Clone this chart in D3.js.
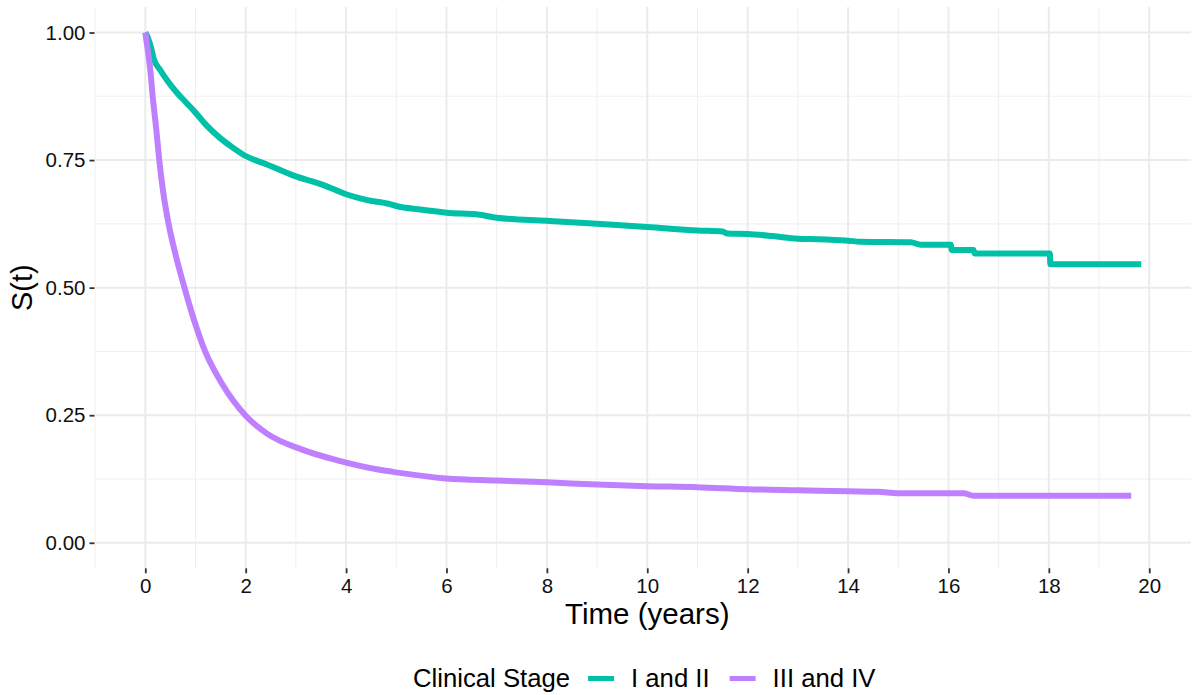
<!DOCTYPE html>
<html>
<head>
<meta charset="utf-8">
<script src="https://cdn.jsdelivr.net/npm/d3@7"></script>
<style>
  html, body { margin: 0; padding: 0; background: #fff; }
  svg { display: block; font-family: "Liberation Sans", Arial, Helvetica, sans-serif; }
</style>
</head>
<body>
<svg id="chart" width="1198" height="695"></svg>
<script>
// Kaplan–Meier survival estimates by clinical stage (time in years, survival probability)
const stageLabels = ["I and II", "III and IV"];
const stageColors = ["#00C1A7", "#BF80FF"];

const timeEarly = [0, 0.05, 0.11, 0.17, 0.30, 0.43, 0.63, 0.83, 1.0, 1.22, 1.48, 1.75, 2.0, 2.41, 3.0, 3.55, 4.0, 4.4, 4.86, 5.0, 5.48, 6.0, 6.66, 7.0, 8.0, 9.0, 10.0, 11.0, 11.5, 11.6, 12.0, 12.5, 13.0, 13.4, 14.0, 14.25, 15.25, 15.45, 16.05, 16.06, 16.5, 16.52, 18.02, 18.03, 19.84];
const survEarly = [1.0, 0.99, 0.972, 0.948, 0.926, 0.907, 0.882, 0.861, 0.843, 0.818, 0.794, 0.774, 0.758, 0.742, 0.718, 0.701, 0.683, 0.672, 0.664, 0.660, 0.653, 0.647, 0.643, 0.637, 0.631, 0.625, 0.619, 0.612, 0.610, 0.606, 0.605, 0.601, 0.596, 0.595, 0.592, 0.590, 0.589, 0.584, 0.584, 0.574, 0.574, 0.567, 0.567, 0.546, 0.546];

const timeLate = [0, 0.05, 0.10, 0.15, 0.22, 0.28, 0.36, 0.46, 0.60, 0.78, 0.95, 1.18, 1.52, 2.0, 2.41, 3.14, 3.81, 4.67, 5.0, 6.0, 7.0, 8.0, 9.0, 10.0, 11.0, 12.0, 13.0, 14.0, 14.6, 15.0, 16.3, 16.5, 19.64];
const survLate = [1.0, 0.965, 0.926, 0.872, 0.809, 0.748, 0.685, 0.627, 0.566, 0.500, 0.443, 0.378, 0.313, 0.249, 0.215, 0.182, 0.162, 0.143, 0.138, 0.126, 0.122, 0.1185, 0.114, 0.111, 0.109, 0.105, 0.103, 0.101, 0.100, 0.097, 0.097, 0.092, 0.092];

const xTicks = [0, 2, 4, 6, 8, 10, 12, 14, 16, 18, 20];
const yTicks = [0, 0.25, 0.5, 0.75, 1.0];
const xMinor = [-1, 1, 3, 5, 7, 9, 11, 13, 15, 17, 19];
const yMinor = [0.125, 0.375, 0.625, 0.875];

const xTitle = "Time (years)";
const yTitle = "S(t)";
const legendTitle = "Clinical Stage";

const series = [
  { label: stageLabels[0], color: stageColors[0], points: timeEarly.map((t, i) => [t, survEarly[i]]) },
  { label: stageLabels[1], color: stageColors[1], points: timeLate.map((t, i) => [t, survLate[i]]) }
];

const svg = d3.select("#chart");
const panel = { left: 95.5, right: 1191, top: 7, bottom: 568.3 };

// ggplot-style 5% expansion around the data / limits
const tMax = d3.max(series, s => d3.max(s.points, p => p[0]));
const xPad = tMax * 0.05;
const x = d3.scaleLinear().domain([-xPad, tMax + xPad]).range([panel.left, panel.right]);
const y = d3.scaleLinear().domain([-0.05, 1.05]).range([panel.bottom, panel.top]);

// grid
const grid = svg.append("g");
grid.selectAll(".xminor").data(xMinor.filter(v => x(v) >= panel.left - 1 && x(v) <= panel.right))
  .join("line").attr("x1", d => x(d)).attr("x2", d => x(d))
  .attr("y1", panel.top).attr("y2", panel.bottom)
  .attr("stroke", "#F0F0F0").attr("stroke-width", 1.1);
grid.selectAll(".yminor").data(yMinor)
  .join("line").attr("y1", d => y(d)).attr("y2", d => y(d))
  .attr("x1", panel.left).attr("x2", panel.right)
  .attr("stroke", "#F0F0F0").attr("stroke-width", 1.1);
grid.selectAll(".xmajor").data(xTicks)
  .join("line").attr("x1", d => x(d)).attr("x2", d => x(d))
  .attr("y1", panel.top).attr("y2", panel.bottom)
  .attr("stroke", "#EBEBEB").attr("stroke-width", 2);
grid.selectAll(".ymajor").data(yTicks)
  .join("line").attr("y1", d => y(d)).attr("y2", d => y(d))
  .attr("x1", panel.left).attr("x2", panel.right)
  .attr("stroke", "#EBEBEB").attr("stroke-width", 2);

// axes
const xAxis = d3.axisBottom(x).tickValues(xTicks).tickFormat(d3.format("d")).tickSize(5).tickPadding(4);
const yAxis = d3.axisLeft(y).tickValues(yTicks).tickFormat(d3.format(".2f")).tickSize(5).tickPadding(4);

const gx = svg.append("g").attr("transform", `translate(0,${panel.bottom})`).call(xAxis);
const gy = svg.append("g").attr("transform", `translate(${panel.left - 1},0)`).call(yAxis);
[gx, gy].forEach(g => {
  g.select(".domain").remove();
  g.selectAll(".tick line").attr("stroke", "#333333").attr("stroke-width", 1.8);
  g.selectAll(".tick text").attr("fill", "#111").style("font-size", "20.5px");
});
gx.selectAll(".tick text").attr("dy", "0.75em");

// survival curves
const line = d3.line().x(d => x(d[0])).y(d => y(d[1])).curve(d3.curveMonotoneX);
svg.append("g").selectAll("path").data(series).join("path")
  .attr("d", d => line(d.points))
  .attr("fill", "none")
  .attr("stroke", d => d.color)
  .attr("stroke-width", 6)
  .attr("stroke-linejoin", "round")
  .attr("stroke-linecap", "butt");

// axis titles
svg.append("text")
  .attr("x", (panel.left + panel.right) / 2 + 4)
  .attr("y", 624)
  .attr("text-anchor", "middle")
  .style("font-size", "29.5px")
  .attr("fill", "#000")
  .text(xTitle);
svg.append("text")
  .attr("transform", `translate(32,${(panel.top + panel.bottom) / 2}) rotate(-90)`)
  .attr("text-anchor", "middle")
  .style("font-size", "29px")
  .attr("fill", "#000")
  .text(yTitle);

// legend (horizontal, below the panel)
const legend = svg.append("g");
const fs = 25.7;
const baseY = 687;
let cx = 0;
const lt = legend.append("text").attr("x", cx).attr("y", baseY)
  .style("font-size", fs + "px").attr("fill", "#000").text(legendTitle);
cx += lt.node().getComputedTextLength() + 18;
series.forEach((s, i) => {
  legend.append("line")
    .attr("x1", cx).attr("x2", cx + 26)
    .attr("y1", baseY - 8.5).attr("y2", baseY - 8.5)
    .attr("stroke", s.color).attr("stroke-width", 5);
  cx += 26 + 17;
  const t = legend.append("text").attr("x", cx).attr("y", baseY)
    .style("font-size", fs + "px").attr("fill", "#000").text(s.label);
  cx += t.node().getComputedTextLength();
  if (i < series.length - 1) cx += 20;
});
legend.attr("transform", `translate(${413},0)`);
</script>
</body>
</html>
